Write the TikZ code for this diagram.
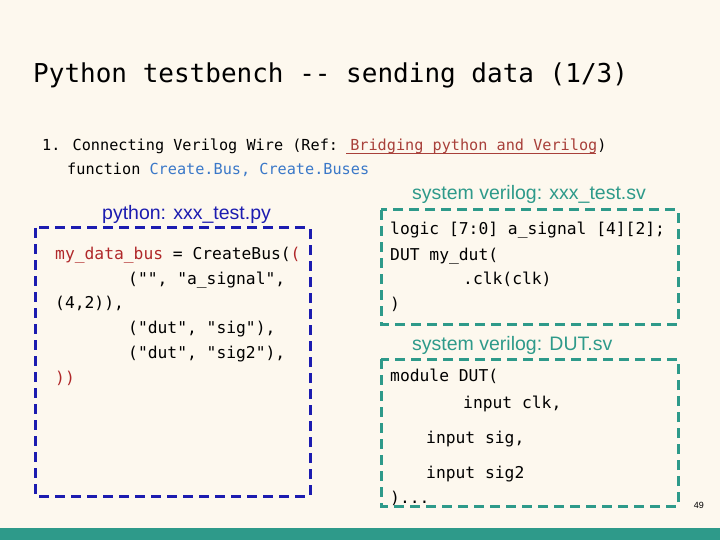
\documentclass[tikz,border=0pt]{standalone}
\usepackage{fontspec}
\setmainfont{Liberation Sans}
\newfontfamily\cmono{DejaVu Sans Mono}
\definecolor{bg}{HTML}{FDF8EE}
\definecolor{teal}{HTML}{2E9A8A}
\definecolor{dblue}{HTML}{1C1CB0}
\definecolor{lblue}{HTML}{3A78C8}
\definecolor{lred}{HTML}{A8403A}
\definecolor{kred}{HTML}{B0282A}
\begin{document}
\begin{tikzpicture}[x=1pt,y=-1pt,
  code/.style={anchor=base west,inner sep=0,font=\cmono\fontsize{16.3}{18}\selectfont},
  lab/.style={anchor=base west,inner sep=0,font=\fontsize{19.5}{22}\selectfont},
  dbox/.style={line width=3pt,dash pattern=on 10pt off 6pt}]
\fill[bg] (0,0) rectangle (720,540);
\fill[teal] (0,528) rectangle (720,540);
\node[code,font=\cmono\fontsize{26}{30}\selectfont] (title) at (33,83) {Python testbench -- sending data (1/3)};
\node[code,font=\cmono\fontsize{15.2}{18}\selectfont] (item) at (42,151) {1. Connecting Verilog Wire (Ref: \textcolor{lred}{Bridging python and Verilog})};
\draw[lred,line width=0.8pt] (346,153) -- (596,153);
\node[code,font=\cmono\fontsize{15.2}{18}\selectfont] (fn) at (67,175) {function \textcolor{lblue}{Create.Bus, Create.Buses}};
\node[lab,text=dblue] (pl) at (102,219) {python: xxx\_test.py};
\node[lab,text=teal] (sl1) at (412,200) {system verilog: xxx\_test.sv};
\node[lab,text=teal] (sl2) at (412,350) {system verilog: DUT.sv};
\draw[dbox,dblue] (35,228) rectangle (310,496);
\draw[dbox,teal] (381,210) rectangle (678,324);
\draw[dbox,teal] (381,359) rectangle (678,506);
\node[code] (p1) at (55,259) {\textcolor{kred}{my\_data\_bus} = CreateBus(\textcolor{kred}{(}};
\node[code] (p2) at (55,284) {\hspace*{73pt}("", "a\_signal",};
\node[code] (p3) at (55,308) {(4,2)),};
\node[code] (p4) at (55,333) {\hspace*{73pt}("dut", "sig"),};
\node[code] (p5) at (55,358) {\hspace*{73pt}("dut", "sig2"),};
\node[code,text=kred] (p6) at (55,383) {))};
\node[code] (s1) at (390,235) {logic [7:0] a\_signal [4][2];};
\node[code] (s2) at (390,260) {DUT my\_dut(};
\node[code] (s3) at (390,284) {\hspace*{73pt}.clk(clk)};
\node[code] (s4) at (390,309) {)};
\node[code] (d1) at (390,381) {module DUT(};
\node[code] (d2) at (390,408) {\hspace*{73pt}input clk,};
\node[code] (d3) at (390,443) {\hspace*{36pt}input sig,};
\node[code] (d4) at (390,478) {\hspace*{36pt}input sig2};
\node[code] (d5) at (390,503) {)...};
\node[anchor=base east,inner sep=0,font=\fontsize{9}{10}\selectfont] (pg) at (704,508) {49};
\end{tikzpicture}
\end{document}
